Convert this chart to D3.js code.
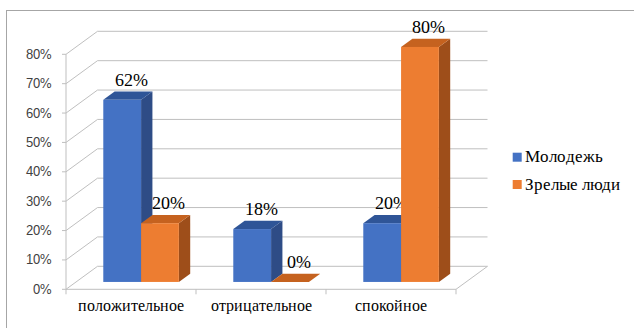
<!DOCTYPE html>
<html>
<head>
<meta charset="utf-8">
<script src="https://cdn.jsdelivr.net/npm/d3@7"></script>
<style>
  @font-face {
    font-family: "ChartSerif";
    src: local("Liberation Serif"), local("LiberationSerif"), local("LiberationSerif-Regular"), local("Times New Roman");
    font-weight: normal;
    font-style: normal;
  }
  @font-face {
    font-family: "ChartSans";
    src: local("Liberation Sans"), local("LiberationSans"), local("LiberationSans-Regular"), local("Arial");
  }
  html, body { margin: 0; padding: 0; background: #fff; }
  svg { display: block; }
</style>
</head>
<body>
<svg id="chart" width="634" height="328"></svg>
<script>
// Категории, серии и значения
const categories = ["положительное", "отрицательное", "спокойное"];
const seriesNames = ["Молодежь", "Зрелые люди"];
const youth = [0.62, 0.18, 0.20];
const mature = [0.20, 0.00, 0.80];
const yTicks = [0, 0.1, 0.2, 0.3, 0.4, 0.5, 0.6, 0.7, 0.8];

const values = [youth, mature];

const SERIF = "ChartSerif, 'Liberation Serif', serif";
const SANS = "ChartSans, 'Liberation Sans', sans-serif";

const svg = d3.select("#chart");

function setFont(sel, family, size) {
  return sel.attr("font-family", family)
    .style("font-family", family, "important")
    .attr("font-size", size);
}

// цвета граней: лицевая, верхняя, боковая
const faceColors = [
  { front: "#4472C4", top: "#2F5597", side: "#2E4C86" },
  { front: "#ED7D31", top: "#C5621F", side: "#9E4E1A" }
];

// фронтальная плоскость
const x0 = d3.scaleBand().domain(categories).range([66, 456]).paddingInner(0).paddingOuter(0);
const x1 = d3.scaleBand().domain(seriesNames).range([0, x0.bandwidth()]).paddingInner(0).paddingOuter(0.72);
const y = d3.scaleLinear().domain([0, 0.8]).range([289.3, 54.3]);

// глубина псевдо-3D
const DX = 31.5, DY = -23;
const zFront = 0.32, zBack = 0.68;

// рамка области диаграммы
svg.append("rect")
  .attr("x", 6.5).attr("y", 10.5).attr("width", 640).attr("height", 330)
  .attr("fill", "none").attr("stroke", "#A6A6A6").attr("stroke-width", 1);

const grid = svg.append("g").attr("stroke", "#BFBFBF").attr("stroke-width", 1).attr("fill", "none");

// линии сетки: боковая стенка и задняя стенка
yTicks.forEach(t => {
  const yy = y(t);
  grid.append("path")
    .attr("d", `M${x0.range()[0]},${yy}L${x0.range()[0] + DX},${yy + DY}L${x0.range()[1] + DX},${yy + DY}`);
});

// пол: передняя и правая кромки
grid.append("path")
  .attr("d", `M${x0.range()[0]},${y(0)}L${x0.range()[1]},${y(0)}L${x0.range()[1] + DX},${y(0) + DY}`);

// ось Y
svg.append("line")
  .attr("x1", 66).attr("x2", 66).attr("y1", y(0.8)).attr("y2", y(0))
  .attr("stroke", "#BFBFBF");
yTicks.forEach(t => {
  svg.append("line")
    .attr("x1", 62).attr("x2", 66).attr("y1", y(t)).attr("y2", y(t))
    .attr("stroke", "#BFBFBF");
  setFont(svg.append("text"), SANS, 13)
    .attr("x", 52).attr("y", y(t)).attr("dy", "0.35em")
    .attr("text-anchor", "end")
    .attr("fill", "#404040")
    .text(d3.format(".0%")(t));
});

// засечки категорий
const xTickPos = [x0.range()[0]].concat(categories.map(c => x0(c) + x0.bandwidth()));
xTickPos.forEach(px => {
  svg.append("line")
    .attr("x1", px).attr("x2", px).attr("y1", y(0)).attr("y2", y(0) + 5)
    .attr("stroke", "#BFBFBF");
});

// подписи категорий
categories.forEach(c => {
  setFont(svg.append("text"), SERIF, 16)
    .attr("x", x0(c) + x0.bandwidth() / 2).attr("y", 311)
    .attr("text-anchor", "middle")
    .attr("fill", "#000")
    .text(c);
});

// столбцы
const bars = svg.append("g");
const fdx = DX * zFront, fdy = DY * zFront;
const bdx = DX * (zBack - zFront), bdy = DY * (zBack - zFront);

categories.forEach((c, ci) => {
  seriesNames.forEach((s, si) => {
    const v = values[si][ci];
    const xl = x0(c) + x1(s) + fdx;
    const w = x1.bandwidth();
    const yb = y(0) + fdy;
    const yt = y(v) + fdy;
    const col = faceColors[si];
    const g = bars.append("g");
    // боковая грань
    g.append("path")
      .attr("d", `M${xl + w},${yt}L${xl + w + bdx},${yt + bdy}L${xl + w + bdx},${yb + bdy}L${xl + w},${yb}Z`)
      .attr("fill", col.side);
    // верхняя грань
    g.append("path")
      .attr("d", `M${xl},${yt}L${xl + bdx},${yt + bdy}L${xl + w + bdx},${yt + bdy}L${xl + w},${yt}Z`)
      .attr("fill", col.top);
    // лицевая грань
    g.append("rect")
      .attr("x", xl).attr("y", yt).attr("width", w).attr("height", yb - yt)
      .attr("fill", col.front);
    // подпись значения
    setFont(g.append("text"), SERIF, 18)
      .attr("x", xl + w / 2 + 9).attr("y", yt - 14)
      .attr("text-anchor", "middle")
      .attr("fill", "#000")
      .text(d3.format(".0%")(v));
  });
});

// легенда
seriesNames.forEach((s, i) => {
  const ly = 152.7 + i * 27.3;
  svg.append("rect")
    .attr("x", 512.7).attr("y", ly).attr("width", 9).attr("height", 9)
    .attr("fill", faceColors[i].front);
  setFont(svg.append("text"), SERIF, 17)
    .attr("x", 525).attr("y", ly + 9.5)
    .attr("fill", "#000")
    .text(s);
});
</script>
</body>
</html>
